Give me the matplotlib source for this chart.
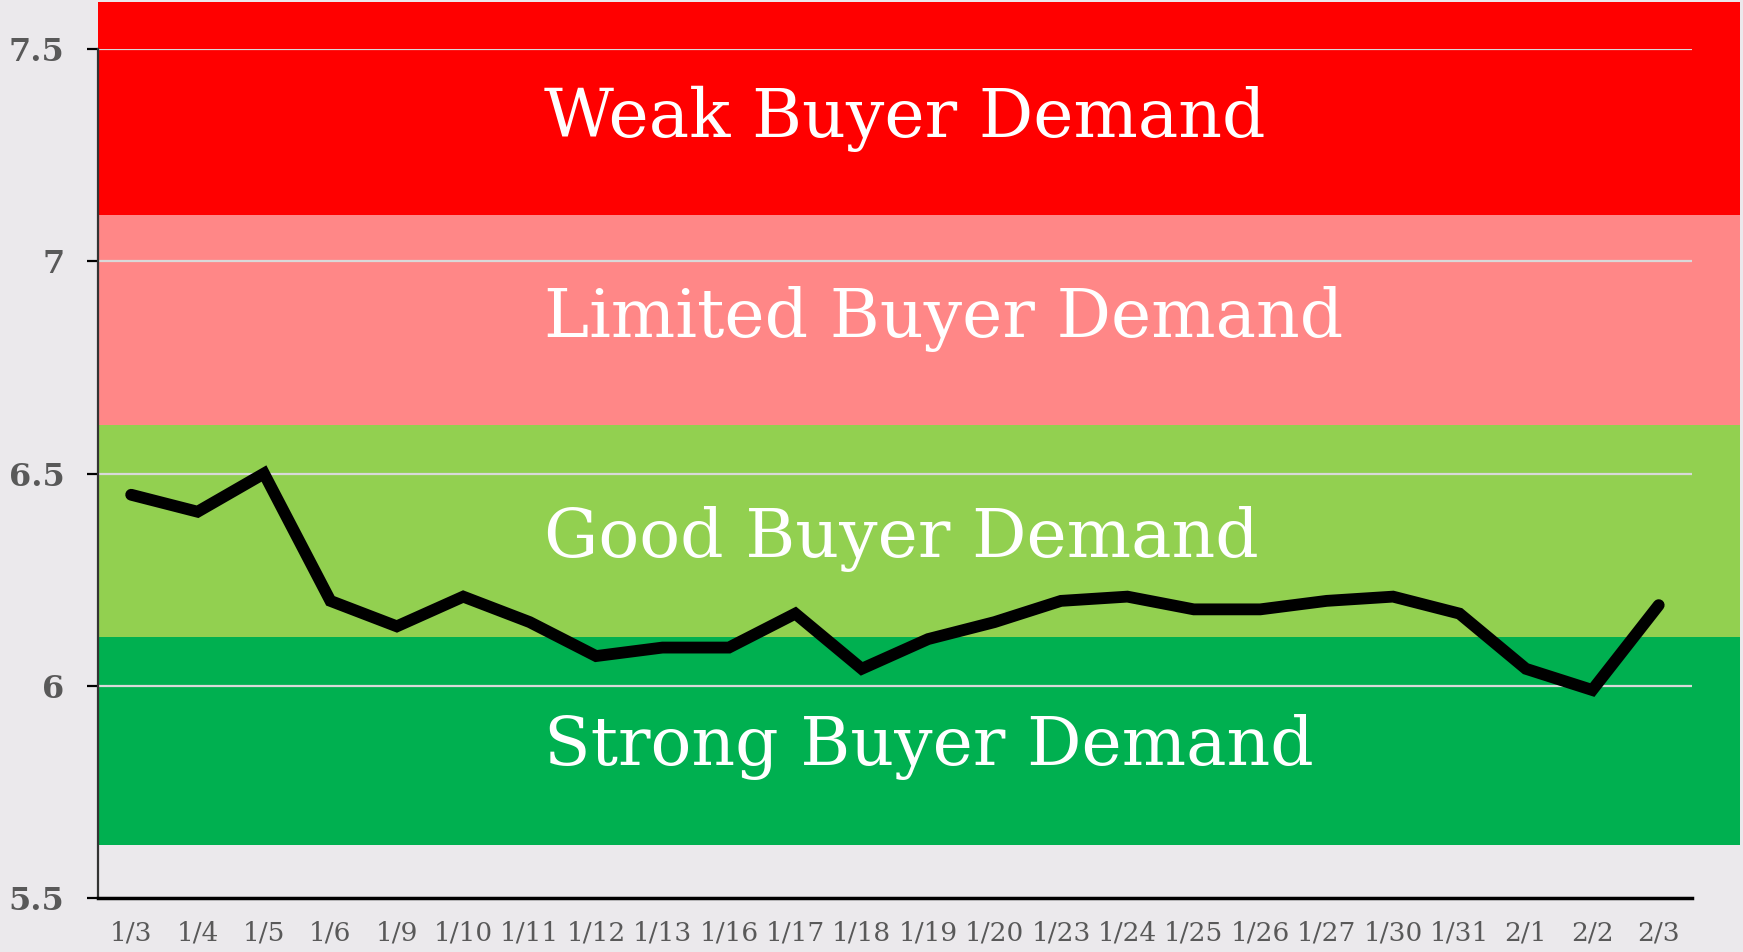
import matplotlib
matplotlib.use("Agg")
import matplotlib.pyplot as plt
import matplotlib.transforms as mtransforms
from matplotlib.patches import Rectangle
import numpy as np

# ---------------------------------------------------------------------------
# Dados
# ---------------------------------------------------------------------------
datas = ["1/3", "1/4", "1/5", "1/6", "1/9", "1/10", "1/11", "1/12", "1/13",
         "1/16", "1/17", "1/18", "1/19", "1/20", "1/23", "1/24", "1/25",
         "1/26", "1/27", "1/30", "1/31", "2/1", "2/2", "2/3"]
valores = [6.45, 6.41, 6.50, 6.20, 6.14, 6.21, 6.15, 6.07, 6.09, 6.09, 6.17,
           6.04, 6.11, 6.15, 6.20, 6.21, 6.18, 6.18, 6.20, 6.21, 6.17, 6.04,
           5.99, 6.19]

# faixas (limite inferior, limite superior, rotulo, cor)
faixa_inf = [5.625, 6.115, 6.615, 7.11]
faixa_sup = [6.115, 6.615, 7.11, 7.61]
faixa_rotulos = ["Strong Buyer Demand", "Good Buyer Demand",
                 "Limited Buyer Demand", "Weak Buyer Demand"]
faixa_cores = ["#00B050", "#92D050", "#FF8787", "#FF0000"]

# posicao vertical dos textos das faixas (layout)
TEXTO_Y = [5.855, 6.345, 6.865, 7.335]

BG = "#EBE9EC"
CINZA = "#595959"

fig = plt.figure(figsize=(17.43, 9.52), dpi=100, facecolor=BG)
ax = fig.add_axes([0.0562, 0.0567, 0.9145, 0.8918], facecolor=BG)

x = np.arange(len(datas))

# faixas coloridas (passam um pouco da area do grafico, como no original)
trans = mtransforms.blended_transform_factory(ax.transAxes, ax.transData)
for lo, hi, rot, cor, ty in zip(faixa_inf, faixa_sup, faixa_rotulos,
                                faixa_cores, TEXTO_Y):
    ax.add_patch(Rectangle((0, lo), 1.030, hi - lo, transform=trans,
                           facecolor=cor, edgecolor="none", clip_on=False,
                           zorder=0.2))
    ax.text(0.280, ty, rot, transform=trans, color="white",
            fontsize=49, family="DejaVu Serif", ha="left", va="center",
            zorder=1)

ax.plot(x, valores, color="black", linewidth=8.5, solid_capstyle="round",
        solid_joinstyle="miter", zorder=3)

ax.set_xlim(-0.5, len(datas) - 0.5)
ax.set_ylim(5.5, 7.5)
ax.set_yticks([5.5, 6, 6.5, 7, 7.5])
ax.set_yticklabels(["5.5", "6", "6.5", "7", "7.5"])
ax.set_xticks(x)
ax.set_xticklabels(datas)

ax.grid(axis="y", color="#D9D9D9", linewidth=1.6, zorder=0.5)
ax.grid(axis="x", visible=False)

for lab in ax.get_yticklabels():
    lab.set_family("DejaVu Serif")
    lab.set_fontweight("bold")
    lab.set_fontsize(23)
    lab.set_color(CINZA)
for lab in ax.get_xticklabels():
    lab.set_family("DejaVu Serif")
    lab.set_fontsize(19)
    lab.set_color(CINZA)

ax.tick_params(axis="y", length=8, width=1.6, color="black", pad=16)
ax.tick_params(axis="x", length=0, pad=16)

for lado in ("top", "right"):
    ax.spines[lado].set_visible(False)
ax.spines["left"].set_color("#333333")
ax.spines["left"].set_linewidth(1.6)
ax.spines["bottom"].set_color("black")
ax.spines["bottom"].set_linewidth(2.5)

fig.savefig("out.png", dpi=100, facecolor=BG)
